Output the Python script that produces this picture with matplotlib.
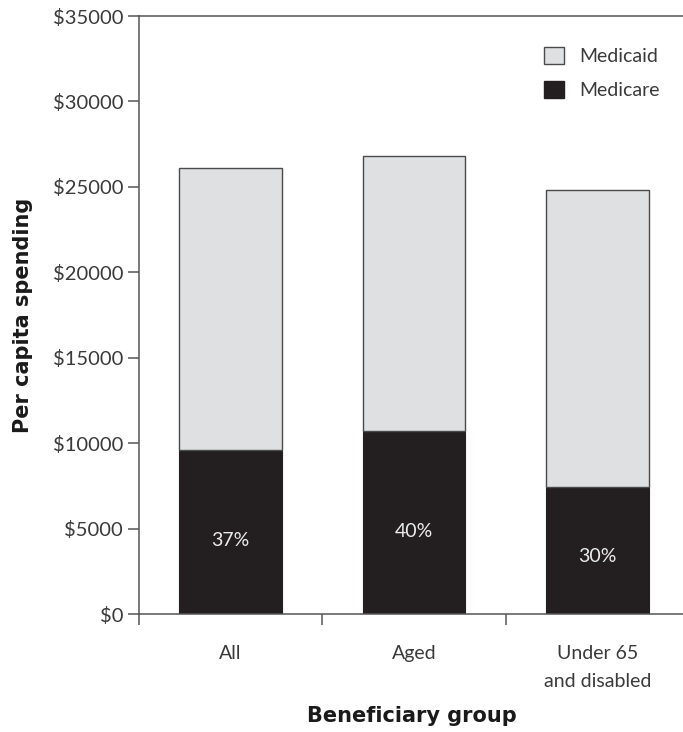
import numpy as np
import matplotlib
matplotlib.use('Agg')
import matplotlib.pyplot as plt
from matplotlib.patches import Patch

params = {'font.family': ['Lato', 'DejaVu Sans'],
          'font.weight': 'normal',
          'axes.edgecolor': '#555555',
          'axes.linewidth': 1.1,
          'xtick.color': '#555555',
          'ytick.color': '#555555',
          'xtick.labelcolor': '#3a3a3a',
          'ytick.labelcolor': '#3a3a3a'}
plt.rcParams.update(params)

groups = ['All', 'Aged', 'Under 65\nand disabled']
total = [26100, 26800, 24800]
medicare = [9600, 10700, 7450]
share = ['37%', '40%', '30%']
yticks = np.arange(0, 35001, 5000)

medicare = np.array(medicare)
medicaid = np.array(total) - medicare
x = np.arange(len(groups))

fig = plt.figure(figsize=(6.83, 7.32), dpi=100)
ax = fig.add_axes([0.2035, 0.1612, 0.80, 0.8169])

ax.bar(x, medicare, width=0.56, color='#231f20', edgecolor='#231f20', linewidth=0.8)
ax.bar(x, medicaid, bottom=medicare, width=0.56, color='#dfe0e2', edgecolor='#4a4a4a', linewidth=1.0)

for xi, m, s in zip(x, medicare, share):
    ax.text(xi, m * 0.45, s, ha='center', va='center', color='#ececec', fontsize=14)

ax.set_xlim(-0.5, 2.48)
ax.set_ylim(0, 35000)
ax.set_yticks(yticks)
ax.set_yticklabels(['$' + str(v) for v in yticks], fontsize=14.5)
ax.tick_params(axis='y', length=8, width=1.1, pad=3.5)

ax.set_xticks(x)
ax.set_xticklabels(groups, fontsize=14, linespacing=1.85, va='top')
ax.tick_params(axis='x', which='major', length=0, pad=22)
ax.set_xticks(np.array([-0.5, 0.5, 1.5]), minor=True)
ax.tick_params(axis='x', which='minor', length=8, width=1.1, direction='out')

ax.spines['right'].set_visible(False)

ax.set_ylabel('Per capita spending', fontsize=15, fontweight='black', color='#1a1a1a',
              family=['DejaVu Sans'], labelpad=14)
ax.set_xlabel('Beneficiary group', fontsize=15, fontweight='black', color='#1a1a1a',
              family=['DejaVu Sans'], labelpad=11)

handles = [Patch(facecolor='#dfe0e2', edgecolor='#4a4a4a', label='Medicaid'),
           Patch(facecolor='#231f20', edgecolor='#231f20', label='Medicare')]
ax.legend(handles=handles, loc='upper right', bbox_to_anchor=(0.985, 0.978), frameon=False,
          fontsize=14, handlelength=1.0, handleheight=1.0, handletextpad=0.8, labelspacing=0.8,
          labelcolor='#3a3a3a')

plt.savefig('out.png', dpi=100)
